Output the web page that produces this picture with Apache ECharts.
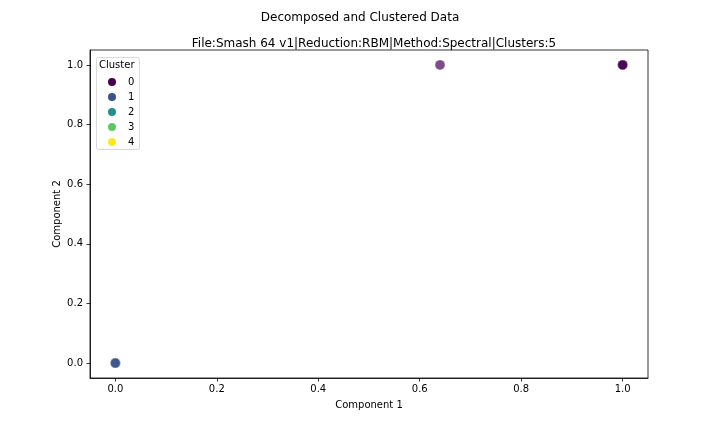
<!DOCTYPE html>
<html>
<head>
<meta charset="utf-8">
<script src="https://cdn.jsdelivr.net/npm/echarts@6/dist/echarts.min.js"></script>
<style>
  html, body { margin: 0; padding: 0; background: #fff; }
  #main { width: 720px; height: 432px; }
</style>
</head>
<body>
<div id="main"></div>
<script>
// cluster labels and colours (viridis, 5 steps)
const clusters = ['0', '1', '2', '3', '4'];
const clusterColors = ['#440154', '#3b528b', '#21918c', '#5ec962', '#fde725'];
// points per cluster: [component 1, component 2]
const cluster0 = [[0.64, 1.0], [1.0, 1.0], [1.0, 1.0], [1.0, 1.0]];
const cluster1 = [[0.0, 0.0], [0.0, 0.0], [0.0, 0.0]];
const cluster2 = [];
const cluster3 = [];
const cluster4 = [];
const xTicks = [0.0, 0.2, 0.4, 0.6, 0.8, 1.0];
const yTicks = [0.0, 0.2, 0.4, 0.6, 0.8, 1.0];

const font = 'DejaVu Sans';
const pointsByCluster = [cluster0, cluster1, cluster2, cluster3, cluster4];

let series = clusters.map((name, i) => ({
    name: name,
    type: 'scatter',
    data: pointsByCluster[i],
    symbolSize: 10,
    itemStyle: {
        color: clusterColors[i],
        opacity: 0.7,
        borderColor: '#fff',
        borderWidth: 0.5
    },
    emphasis: { disabled: true }
}));

let chart = echarts.init(document.getElementById('main'));
chart.setOption({
    animation: false,
    title: [
        {
            text: 'Decomposed and Clustered Data',
            left: 'center', top: 7,
            textStyle: { fontFamily: font, fontSize: 12, fontWeight: 'normal', color: '#000' }
        },
        {
            text: 'File:Smash 64 v1|Reduction:RBM|Method:Spectral|Clusters:5',
            left: 369, top: 33, textAlign: 'center',
            textStyle: { fontFamily: font, fontSize: 12, fontWeight: 'normal', color: '#000' }
        }
    ],
    grid: {
        left: 90, right: 72, top: 50, bottom: 54,
        show: true, borderColor: '#000', borderWidth: 0.8
    },
    legend: {
        orient: 'vertical',
        left: 101, top: 71,
        itemWidth: 10, itemHeight: 10, itemGap: 3,
        icon: 'circle',
        data: clusters.map(c => ({ name: c, itemStyle: { opacity: 1 } })),
        selectedMode: false,
        textStyle: { fontFamily: font, fontSize: 10, color: '#000', padding: [0, 0, 0, 6] }
    },
    graphic: [
        {
            type: 'rect', left: 96, top: 57, z: 1,
            shape: { width: 43, height: 92, r: 2 },
            style: { fill: '#fff', stroke: '#d0d0d0', lineWidth: 1, opacity: 0.8 }
        },
        {
            type: 'text', left: 99, top: 60, z: 2,
            style: { text: 'Cluster', font: '10px DejaVu Sans', fill: '#000' }
        }
    ],
    xAxis: {
        type: 'value', min: -0.05, max: 1.05,
        name: 'Component 1', nameLocation: 'middle', nameGap: 22,
        nameMoveOverlap: false,
        nameTextStyle: { fontFamily: font, fontSize: 10, color: '#000' },
        axisLine: { show: true, onZero: false, lineStyle: { color: '#000', width: 0.8 } },
        axisTick: { show: true, length: 3.5, customValues: xTicks, lineStyle: { color: '#000', width: 0.8 } },
        axisLabel: {
            customValues: xTicks, margin: 6,
            fontFamily: font, fontSize: 10, color: '#000',
            formatter: v => v.toFixed(1)
        },
        splitLine: { show: false }
    },
    yAxis: {
        type: 'value', min: -0.05, max: 1.05,
        name: 'Component 2', nameLocation: 'middle', nameGap: 28,
        nameMoveOverlap: false,
        nameTextStyle: { fontFamily: font, fontSize: 10, color: '#000' },
        axisLine: { show: true, onZero: false, lineStyle: { color: '#000', width: 0.8 } },
        axisTick: { show: true, length: 3.5, customValues: yTicks, lineStyle: { color: '#000', width: 0.8 } },
        axisLabel: {
            customValues: yTicks, margin: 7,
            fontFamily: font, fontSize: 10, color: '#000',
            formatter: v => v.toFixed(1)
        },
        splitLine: { show: false }
    },
    series: series
});
</script>
</body>
</html>
